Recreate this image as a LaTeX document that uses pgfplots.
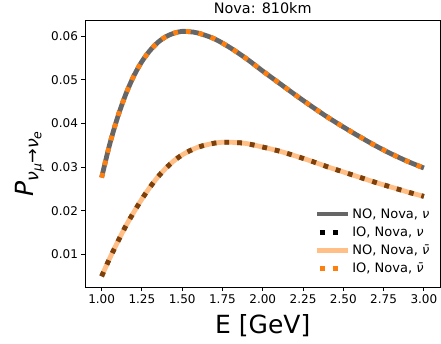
\documentclass[border=0pt]{standalone}
\usepackage{fontspec}
\setmainfont{DejaVu Sans}
\usepackage{pgfplots}
\usepackage{pgfplotstable}
\pgfplotsset{compat=1.18}
\definecolor{mplorange}{RGB}{255,127,14}
\pgfplotsset{dotlegend/.style={legend image code/.code={\draw[##1] (3pt,0pt) -- (22pt,0pt);}}}

\pgfplotstableread{
E P
1.00 0.0276
1.05 0.0352
1.10 0.0415
1.15 0.0467
1.20 0.0509
1.25 0.0542
1.30 0.0567
1.35 0.0586
1.40 0.0599
1.45 0.0607
1.50 0.0611
1.55 0.0610
1.60 0.0607
1.70 0.0594
1.80 0.0573
1.90 0.0548
2.00 0.0520
2.10 0.0493
2.20 0.0466
2.30 0.0440
2.40 0.0415
2.50 0.0392
2.60 0.0370
2.70 0.0349
2.80 0.0330
2.90 0.0313
3.00 0.0298
}\uppertab

\pgfplotstableread{
E P
1.00 0.0050
1.05 0.0091
1.10 0.0129
1.15 0.0165
1.20 0.0197
1.25 0.0227
1.30 0.0254
1.35 0.0278
1.40 0.0298
1.45 0.0315
1.50 0.0328
1.55 0.0338
1.60 0.0346
1.65 0.0351
1.70 0.0355
1.75 0.0357
1.80 0.0357
1.85 0.0356
1.90 0.0354
2.00 0.0346
2.10 0.0337
2.20 0.0326
2.30 0.0314
2.40 0.0301
2.50 0.0289
2.60 0.0277
2.70 0.0265
2.80 0.0254
2.90 0.0243
3.00 0.0233
}\lowertab

\begin{document}
\begin{tikzpicture}
\useasboundingbox (-85.5pt,-56pt) rectangle (355.5pt,287pt);
\begin{axis}[
  at={(0pt,0pt)}, anchor=south west,
  scale only axis, width=354.5pt, height=267pt,
  xmin=0.9, xmax=3.1, ymin=0.00255, ymax=0.0637,
  axis line style={line width=0.8pt},
  tick align=outside, tick style={black, line width=0.8pt, major tick length=4pt},
  xtick pos=bottom, ytick pos=left,
  xtick={1,1.25,...,3.01},
  ytick={0.01,0.02,0.03,0.04,0.05,0.06},
  scaled y ticks=false,
  /pgf/number format/assume math mode=true,
  xticklabel style={/pgf/number format/.cd, fixed, fixed zerofill, precision=2},
  yticklabel style={/pgf/number format/.cd, fixed, fixed zerofill, precision=2},
  ticklabel style={font=\fontsize{12}{14}\selectfont},
  every axis title shift=0pt,
  title={Nova: 810km},
  title style={font=\fontsize{14.4}{16}\selectfont, at={(axis description cs:0.5,1.026)}, anchor=base},
  xlabel={E [GeV]},
  xlabel style={font=\fontsize{25}{28}\selectfont, at={(axis description cs:0.5,-0.1735)}, anchor=base},
  ylabel={\fontsize{25}{28}\selectfont\textit{P}\raisebox{-5pt}{\fontsize{17.5}{18}\selectfont\textit{ν}\raisebox{-3pt}{\fontsize{12.5}{13}\selectfont\textit{μ}}→\textit{ν}\raisebox{-3pt}{\fontsize{12.5}{13}\selectfont\textit{e}}}},
  ylabel style={at={(axis description cs:-0.147,0.461)}, anchor=base},
  legend style={at={(axis description cs:0.978,0.04)}, anchor=south east, draw=none, fill=none,
    font=\fontsize{13}{14}\selectfont, row sep=3pt, inner sep=0pt},
  legend cell align=left,
  legend image code/.code={\draw[#1] (0pt,0pt) -- (31pt,0pt);},
]
\addplot[black, draw opacity=0.6, line width=4.8pt, smooth] table[x=E,y=P] {\uppertab};
\addlegendentry{NO, Nova, \textit{ν}}
\addplot[black, line width=4.8pt, line cap=butt, dash pattern=on 4.8pt off 8pt, dotlegend, smooth] table[x=E,y=P] {\lowertab};
\addlegendentry{IO, Nova, \textit{ν}}
\addplot[mplorange, draw opacity=0.5, line width=4.8pt, smooth] table[x=E,y=P] {\lowertab};
\addlegendentry{NO, Nova, \textit{ν̄}}
\addplot[mplorange, line width=4.8pt, line cap=butt, dash pattern=on 4.8pt off 8pt, dotlegend, smooth] table[x=E,y=P] {\uppertab};
\addlegendentry{IO, Nova, \textit{ν̄}}
\end{axis}
\end{tikzpicture}
\end{document}
